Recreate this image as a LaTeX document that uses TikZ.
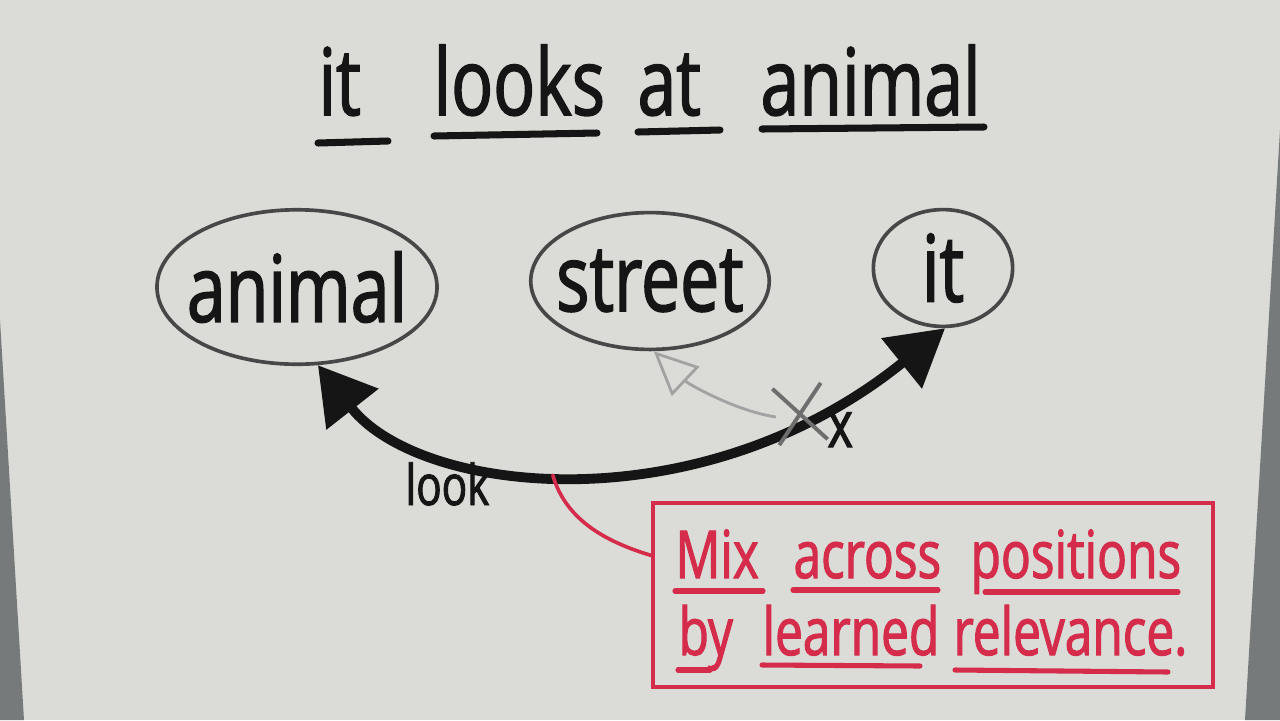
\documentclass[tikz,border=0pt]{standalone}
\usepackage{fontspec}
\newfontfamily\hand[FakeStretch=0.75,FakeBold=1.6]{Open Sans}
\usetikzlibrary{arrows.meta,shapes.geometric,shapes.misc}
\definecolor{board}{HTML}{DBDCD8}
\definecolor{ink}{HTML}{151515}
\definecolor{rim}{HTML}{474747}
\definecolor{redink}{HTML}{D42C4A}
\definecolor{frame}{HTML}{777A7A}
\definecolor{ghostgrey}{HTML}{A2A2A2}
\definecolor{crossgrey}{HTML}{6E6E6E}

\begin{document}
\begin{tikzpicture}[x=0.0125cm,y=-0.0125cm,
    word/.style={anchor=base west,inner sep=0pt,text=ink,font=\hand\fontsize{33}{36}\selectfont},
    redword/.style={anchor=base west,inner sep=0pt,text=redink,font=\hand\fontsize{23.5}{26}\selectfont},
    uline/.style={draw=ink,line width=2.5pt,line cap=round},
    redline/.style={draw=redink,line width=1.8pt,line cap=round},
    token/.style={draw=rim,line width=1.3pt,ellipse,inner xsep=-1cm,inner ysep=0pt,text=ink,font=\hand\fontsize{33}{36}\selectfont},
    look/.style={draw=ink,line width=3.5pt,arrows={Triangle[length=0.7cm,width=0.8cm]-Triangle[length=0.7cm,width=0.78cm]}},
    ghost/.style={draw=ghostgrey,line width=1pt,-{Triangle[open,length=0.55cm,width=0.5cm,line width=1pt]}},
    redlink/.style={draw=redink,line width=1.3pt,line cap=round,shorten <=0.08cm}]
  \useasboundingbox (0,0) rectangle (1280,720);
  \fill[board] (0,0) rectangle (1280,720);
  \fill[frame] (1280,130) -- (1245,720) -- (1280,720) -- cycle;
  \fill[frame] (0,320) -- (24,720) -- (0,720) -- cycle;

  \node[word] (it1) at (318,115) {it};
  \node[word] (looks1) at (433,115) {looks};
  \node[word] (at1) at (637,115) {at};
  \node[word] (animal1) at (760,115) {animal};
  \draw[uline] (318,143) -- (388,141);
  \draw[uline] (434,136) -- (597,133);
  \draw[uline] (638,132) -- (720,130);
  \draw[uline] (762,129) -- (984,127);

  \node[token,minimum width=3.5cm,minimum height=1.93cm] (animal) at (297,287) {animal};
  \node[token,minimum width=2.98cm,minimum height=1.71cm] (street) at (650,281) {street};
  \node[token,minimum width=1.74cm,minimum height=1.46cm] (it) at (943,268) {it};

  \node[draw=redink,line width=1.4pt,minimum width=7cm,minimum height=2.31cm] (box) at (933,595) {};

  \draw[look] (animal.-75) .. controls +(102,130) and +(-245,198) .. (it.-88) coordinate[pos=0.46] (low);
  \draw[redlink] (low) .. controls +(15,52) and +(-43,-13) .. (box.172);

  \node[cross out,draw=crossgrey,line width=1.4pt,minimum width=0.56cm,minimum height=0.66cm,rotate=7] (block) at (800,414) {};
  \draw[ghost] (block.west) .. controls +(-40,-6) and +(35,33) .. (street.-87);

  \node[anchor=base west,inner sep=0pt,text=ink,font=\hand\fontsize{23}{26}\selectfont] (xmark) at (827,447) {x};
  \node[anchor=base west,inner sep=0pt,text=ink,font=\hand\fontsize{20}{22}\selectfont] (lookl) at (405,505) {look};

  \node[redword] (mix) at (675,578) {Mix};
  \node[redword] (across) at (793,578) {across};
  \node[redword] (positions) at (970,578) {positions};
  \node[redword] (by) at (678,655) {by};
  \node[redword] (learned) at (762,655) {learned};
  \node[redword] (relevance) at (953,655) {relevance.};
  \draw[redline] (675,591) -- (763,591);
  \draw[redline] (793,590) -- (938,590);
  \draw[redline] (985,592) -- (1178,592);
  \draw[redline] (678,670) -- (710,670);
  \draw[redline] (762,665) -- (920,666);
  \draw[redline] (955,670) -- (1168,672);
\end{tikzpicture}
\end{document}
